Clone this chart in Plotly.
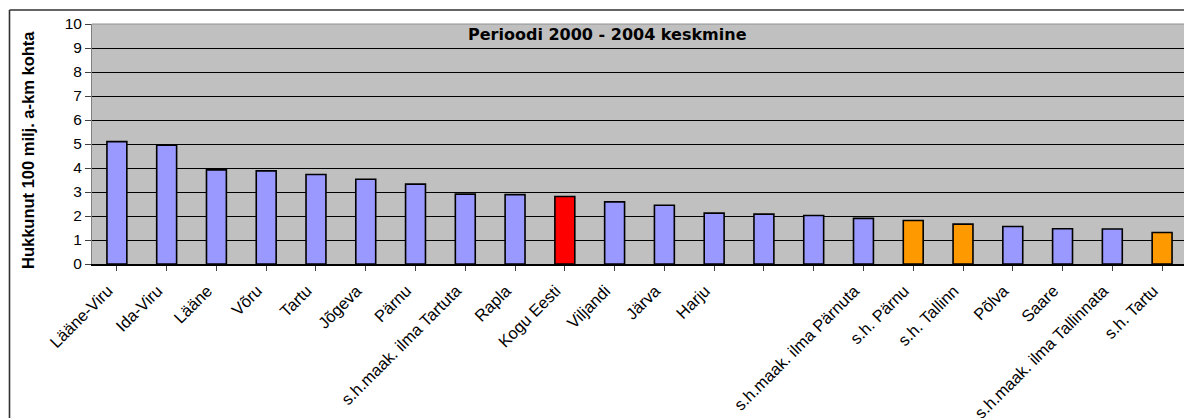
import plotly.graph_objects as go

# Counties and sub-groups, sorted by fatality rate
categories = [
    "Lääne-Viru", "Ida-Viru", "Lääne", "Võru", "Tartu", "Jõgeva", "Pärnu",
    "s.h.maak. ilma Tartuta", "Rapla", "Kogu Eesti", "Viljandi", "Järva",
    "Harju", "", "", "s.h.maak. ilma Pärnuta", "s.h. Pärnu", "s.h. Tallinn",
    "Põlva", "Saare", "s.h.maak. ilma Tallinnata", "s.h. Tartu",
]
# Killed per 100 million vehicle-km, 2000-2004 average
values = [
    5.1, 4.95, 3.92, 3.88, 3.73, 3.53, 3.33, 2.91, 2.89, 2.81, 2.59, 2.45,
    2.12, 2.08, 2.02, 1.90, 1.81, 1.66, 1.56, 1.47, 1.46, 1.31,
]
# Bar group: county, whole country, city
groups = [
    "county", "county", "county", "county", "county", "county", "county",
    "county", "county", "total", "county", "county", "county", "county",
    "county", "county", "city", "city", "county", "county", "county", "city",
]
y_ticks = list(range(0, 11))

palette = {"county": "#9999FF", "total": "#FF0000", "city": "#FF9900"}
colors = [palette[g] for g in groups]
xs = list(range(len(categories)))

W, H = 1184, 418
L, R, T, B = 92, 0, 24, 154
pw, ph = W - L - R, H - T - B


def px_x(p):
    return (p - L) / pw


def px_y(p):
    return (H - B - p) / ph


fig = go.Figure(
    go.Bar(
        x=xs,
        y=values,
        width=0.4,
        marker=dict(color=colors, line=dict(color="#000000", width=1.6)),
        hoverinfo="x+y",
    )
)

font = "Arial, 'Liberation Sans', sans-serif"
wide_font = "'DejaVu Sans', Arial, sans-serif"

fig.update_layout(
    width=W,
    height=H,
    margin=dict(l=L, r=R, t=T, b=B, autoexpand=False),
    paper_bgcolor="#FFFFFF",
    plot_bgcolor="#C0C0C0",
    showlegend=False,
    font=dict(family=font, size=14, color="#000000"),
    xaxis=dict(
        range=[-0.5, 21.44],
        tickmode="array",
        tickvals=xs,
        ticktext=categories,
        tickangle=-45,
        tickson="boundaries",
        ticks="outside",
        ticklen=5,
        tickcolor="#404040",
        ticklabelstandoff=4,
        ticklabelshift=-9,
        tickfont=dict(family=font, size=16.5, color="#000000"),
        showgrid=False,
        showline=True,
        linecolor="#000000",
        linewidth=1.5,
        zeroline=False,
        automargin=False,
        fixedrange=True,
    ),
    yaxis=dict(
        range=[0, 10],
        tickmode="array",
        tickvals=y_ticks,
        ticktext=[str(v) for v in y_ticks],
        ticks="outside",
        ticklen=6,
        tickcolor="#404040",
        tickfont=dict(family=font, size=15.5, color="#000000"),
        showgrid=True,
        gridcolor="#000000",
        gridwidth=1,
        showline=True,
        linecolor="#808080",
        linewidth=1,
        zeroline=False,
        automargin=False,
        fixedrange=True,
    ),
    shapes=[
        # outer chart frame (left and top edges)
        dict(type="line", xref="paper", yref="paper",
             x0=px_x(9.5), x1=px_x(9.5), y0=px_y(10), y1=px_y(430),
             line=dict(color="#303030", width=1.6)),
        dict(type="line", xref="paper", yref="paper",
             x0=px_x(9.5), x1=px_x(1200), y0=px_y(10), y1=px_y(10),
             line=dict(color="#303030", width=1.6)),
        # top edge of the plot area
        dict(type="line", xref="paper", yref="paper",
             x0=0, x1=1.02, y0=1, y1=1,
             line=dict(color="#909090", width=1.2)),
    ],
    annotations=[
        dict(
            text="<b>Perioodi 2000 - 2004 keskmine</b>",
            xref="paper", yref="paper",
            x=px_x(607), y=px_y(35),
            xanchor="center", yanchor="middle",
            showarrow=False,
            font=dict(family=wide_font, size=16, color="#000000"),
        ),
        dict(
            text="<b>Hukkunut 100 milj. a-km kohta</b>",
            xref="paper", yref="paper",
            x=px_x(28), y=px_y(150),
            xanchor="center", yanchor="middle",
            textangle=-90,
            showarrow=False,
            font=dict(family=font, size=16.5, color="#000000"),
        ),
    ],
)

fig.write_html("out.html")
